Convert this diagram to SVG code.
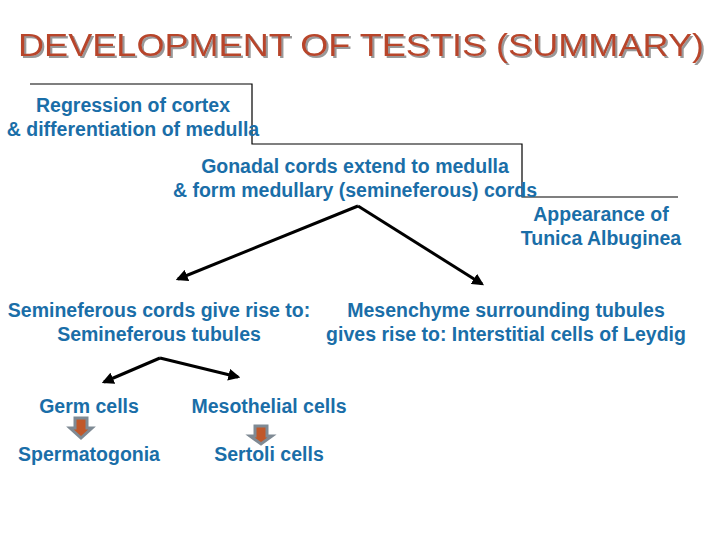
<svg xmlns="http://www.w3.org/2000/svg" width="720" height="540" viewBox="0 0 720 540">
<defs>
<style>
.t{font-family:"Liberation Sans",Arial,sans-serif;font-size:19.5px;font-weight:bold;fill:#1a6ea8}
.ln{stroke:#000;stroke-width:3;fill:none}
.ba{fill:#c0582a;stroke:#7f8a94;stroke-width:3}
</style>
<marker id="ah" viewBox="0 0 10 10" refX="8" refY="5" markerWidth="4" markerHeight="4" orient="auto"><path d="M0,0 L10,5 L0,10 z" fill="#000"/></marker>
<filter id="sh" x="-5%" y="-20%" width="110%" height="150%"><feDropShadow dx="2" dy="2" stdDeviation="0.5" flood-color="#999"/></filter>
</defs>
<rect width="720" height="540" fill="#fff"/>
<text x="361" y="56" text-anchor="middle" font-family="Liberation Sans,Arial,sans-serif" font-size="32" fill="#b8452a" textLength="686" lengthAdjust="spacingAndGlyphs" filter="url(#sh)">DEVELOPMENT OF TESTIS (SUMMARY)</text>
<g id="connectors">
<path d="M30,84 H252 V144 H522 V197 H678" stroke="#000" stroke-width="1.2" fill="none"/>
<line class="ln" x1="358" y1="206" x2="178" y2="279" marker-end="url(#ah)"/>
<line class="ln" x1="358" y1="206" x2="482" y2="284" marker-end="url(#ah)"/>
<line class="ln" x1="160" y1="358" x2="104" y2="382" marker-end="url(#ah)"/>
<line class="ln" x1="160" y1="358" x2="238" y2="377" marker-end="url(#ah)"/>
<path class="ba" d="M75,418 H87 V428 H92 L81,438 L70,428 H75 Z"/>
<path class="ba" d="M255,426 H267 V436 H272 L261,444 L250,436 H255 Z"/>
</g>
<g id="n1"><text class="t" x="133" y="112" text-anchor="middle">Regression of cortex</text><text class="t" x="133" y="136" text-anchor="middle">&amp; differentiation of medulla</text></g>
<g id="n2"><text class="t" x="355" y="173" text-anchor="middle">Gonadal cords extend to medulla</text><text class="t" x="355" y="197" text-anchor="middle">&amp; form medullary (semineferous) cords</text></g>
<g id="n3"><text class="t" x="601" y="221" text-anchor="middle">Appearance  of</text><text class="t" x="601" y="245" text-anchor="middle">Tunica Albuginea</text></g>
<g id="n4"><text class="t" x="159" y="317" text-anchor="middle">Semineferous cords give rise to:</text><text class="t" x="159" y="341" text-anchor="middle">Semineferous tubules</text></g>
<g id="n5"><text class="t" x="506" y="317" text-anchor="middle">Mesenchyme surrounding tubules</text><text class="t" x="506" y="341" text-anchor="middle">gives rise to: Interstitial cells of Leydig</text></g>
<g id="n6"><text class="t" x="89" y="413" text-anchor="middle">Germ cells</text></g>
<g id="n7"><text class="t" x="269" y="413" text-anchor="middle">Mesothelial cells</text></g>
<g id="n8"><text class="t" x="89" y="461" text-anchor="middle">Spermatogonia</text></g>
<g id="n9"><text class="t" x="269" y="461" text-anchor="middle">Sertoli cells</text></g>
</svg>
